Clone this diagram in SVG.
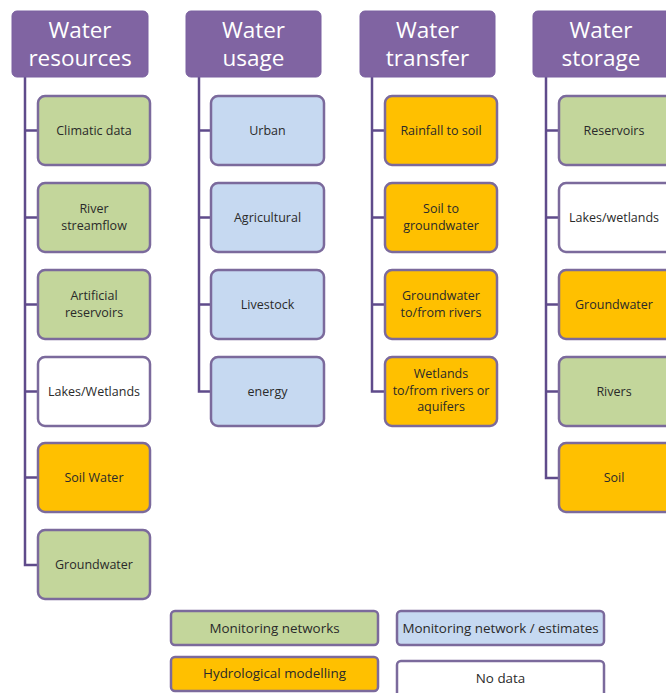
<svg xmlns="http://www.w3.org/2000/svg" width="666" height="693" viewBox="0 0 666 693">
<style>
.hd{fill:#8064A2;stroke:#7a60a0;stroke-width:1}
.ht{fill:#ffffff;font-family:"Open Sans",sans-serif;font-size:22.5px;text-anchor:middle}
.bx{stroke:#7b6a9c;stroke-width:2.5}
.g{fill:#C3D69B}
.b{fill:#C6D9F1}
.o{fill:#FFC000}
.w{fill:#ffffff}
.t{fill:#2a2a2a;font-family:"Open Sans",sans-serif;font-size:12.5px;text-anchor:middle}
.lg{font-size:13.4px}
.ln{fill:none;stroke:#5f4b8b;stroke-width:2.5}
</style>
<rect width="666" height="693" fill="#ffffff"/>
<g id="connectors">
<path class="ln" d="M25,77 V565 H38 M25,130.5 H38 M25,217.5 H38 M25,304.5 H38 M25,391.5 H38 M25,477.5 H38"/>
<path class="ln" d="M199,77 V391.5 H211 M199,130.5 H211 M199,217.5 H211 M199,304.5 H211"/>
<path class="ln" d="M372,77 V391.5 H385 M372,130.5 H385 M372,217.5 H385 M372,304.5 H385"/>
<path class="ln" d="M546,77 V478 H559 M546,130.5 H559 M546,217.5 H559 M546,304.5 H559 M546,391.5 H559"/>
</g>
<g id="h-resources"><rect class="hd" x="12" y="11" width="136" height="66" rx="5"/><text class="ht" x="80" y="38">Water</text><text class="ht" x="80" y="66">resources</text></g>
<g id="h-usage"><rect class="hd" x="186" y="11" width="135" height="66" rx="5"/><text class="ht" x="253.5" y="38">Water</text><text class="ht" x="253.5" y="66">usage</text></g>
<g id="h-transfer"><rect class="hd" x="360" y="11" width="135" height="66" rx="5"/><text class="ht" x="427.5" y="38">Water</text><text class="ht" x="427.5" y="66">transfer</text></g>
<g id="h-storage"><rect class="hd" x="533" y="11" width="140" height="66" rx="5"/><text class="ht" x="601" y="38">Water</text><text class="ht" x="601" y="66">storage</text></g>

<g id="r1"><rect class="bx g" x="38" y="96" width="112" height="69" rx="7"/><text class="t" x="94" y="134.5">Climatic data</text></g>
<g id="r2"><rect class="bx g" x="38" y="183" width="112" height="69" rx="7"/><text class="t" x="94" y="213">River</text><text class="t" x="94" y="230">streamflow</text></g>
<g id="r3"><rect class="bx g" x="38" y="270" width="112" height="69" rx="7"/><text class="t" x="94" y="300">Artificial</text><text class="t" x="94" y="317">reservoirs</text></g>
<g id="r4"><rect class="bx w" x="38" y="357" width="112" height="69" rx="7"/><text class="t" x="94" y="395.5">Lakes/Wetlands</text></g>
<g id="r5"><rect class="bx o" x="38" y="443" width="112" height="69" rx="7"/><text class="t" x="94" y="481.5">Soil Water</text></g>
<g id="r6"><rect class="bx g" x="38" y="530" width="112" height="69" rx="7"/><text class="t" x="94" y="568.5">Groundwater</text></g>

<g id="u1"><rect class="bx b" x="211" y="96" width="113" height="69" rx="7"/><text class="t" x="267.5" y="134.5">Urban</text></g>
<g id="u2"><rect class="bx b" x="211" y="183" width="113" height="69" rx="7"/><text class="t" x="267.5" y="221.5">Agricultural</text></g>
<g id="u3"><rect class="bx b" x="211" y="270" width="113" height="69" rx="7"/><text class="t" x="267.5" y="308.5">Livestock</text></g>
<g id="u4"><rect class="bx b" x="211" y="357" width="113" height="69" rx="7"/><text class="t" x="267.5" y="395.5">energy</text></g>

<g id="t1"><rect class="bx o" x="385" y="96" width="112" height="69" rx="7"/><text class="t" x="441" y="134.5">Rainfall to soil</text></g>
<g id="t2"><rect class="bx o" x="385" y="183" width="112" height="69" rx="7"/><text class="t" x="441" y="213">Soil to</text><text class="t" x="441" y="230">groundwater</text></g>
<g id="t3"><rect class="bx o" x="385" y="270" width="112" height="69" rx="7"/><text class="t" x="441" y="300">Groundwater</text><text class="t" x="441" y="317">to/from rivers</text></g>
<g id="t4"><rect class="bx o" x="385" y="357" width="112" height="69" rx="7"/><text class="t" x="441" y="378">Wetlands</text><text class="t" x="441" y="394.5">to/from rivers or</text><text class="t" x="441" y="411">aquifers</text></g>

<g id="s1"><rect class="bx g" x="559" y="96" width="114" height="69" rx="7"/><text class="t" x="614" y="134.5">Reservoirs</text></g>
<g id="s2"><rect class="bx w" x="559" y="183" width="114" height="69" rx="7"/><text class="t" x="614" y="221.5">Lakes/wetlands</text></g>
<g id="s3"><rect class="bx o" x="559" y="270" width="114" height="69" rx="7"/><text class="t" x="614" y="308.5">Groundwater</text></g>
<g id="s4"><rect class="bx g" x="559" y="357" width="114" height="69" rx="7"/><text class="t" x="614" y="395.5">Rivers</text></g>
<g id="s5"><rect class="bx o" x="559" y="443" width="114" height="69" rx="7"/><text class="t" x="614" y="481.5">Soil</text></g>

<g id="legend-monitoring"><rect class="bx g" x="171" y="611" width="207" height="34" rx="4" stroke-width="1.5"/><text class="t lg" x="274.5" y="633">Monitoring networks</text></g>
<g id="legend-estimates"><rect class="bx b" x="397" y="611" width="207" height="34" rx="4" stroke-width="1.5"/><text class="t lg" x="500.5" y="633">Monitoring network / estimates</text></g>
<g id="legend-modelling"><rect class="bx o" x="171" y="657" width="207" height="34" rx="4" stroke-width="1.5"/><text class="t lg" x="274.5" y="678">Hydrological modelling</text></g>
<g id="legend-nodata"><rect class="bx w" x="397" y="661" width="207" height="36" rx="4" stroke-width="1.5"/><text class="t lg" x="500.5" y="682.5">No data</text></g>
</svg>
